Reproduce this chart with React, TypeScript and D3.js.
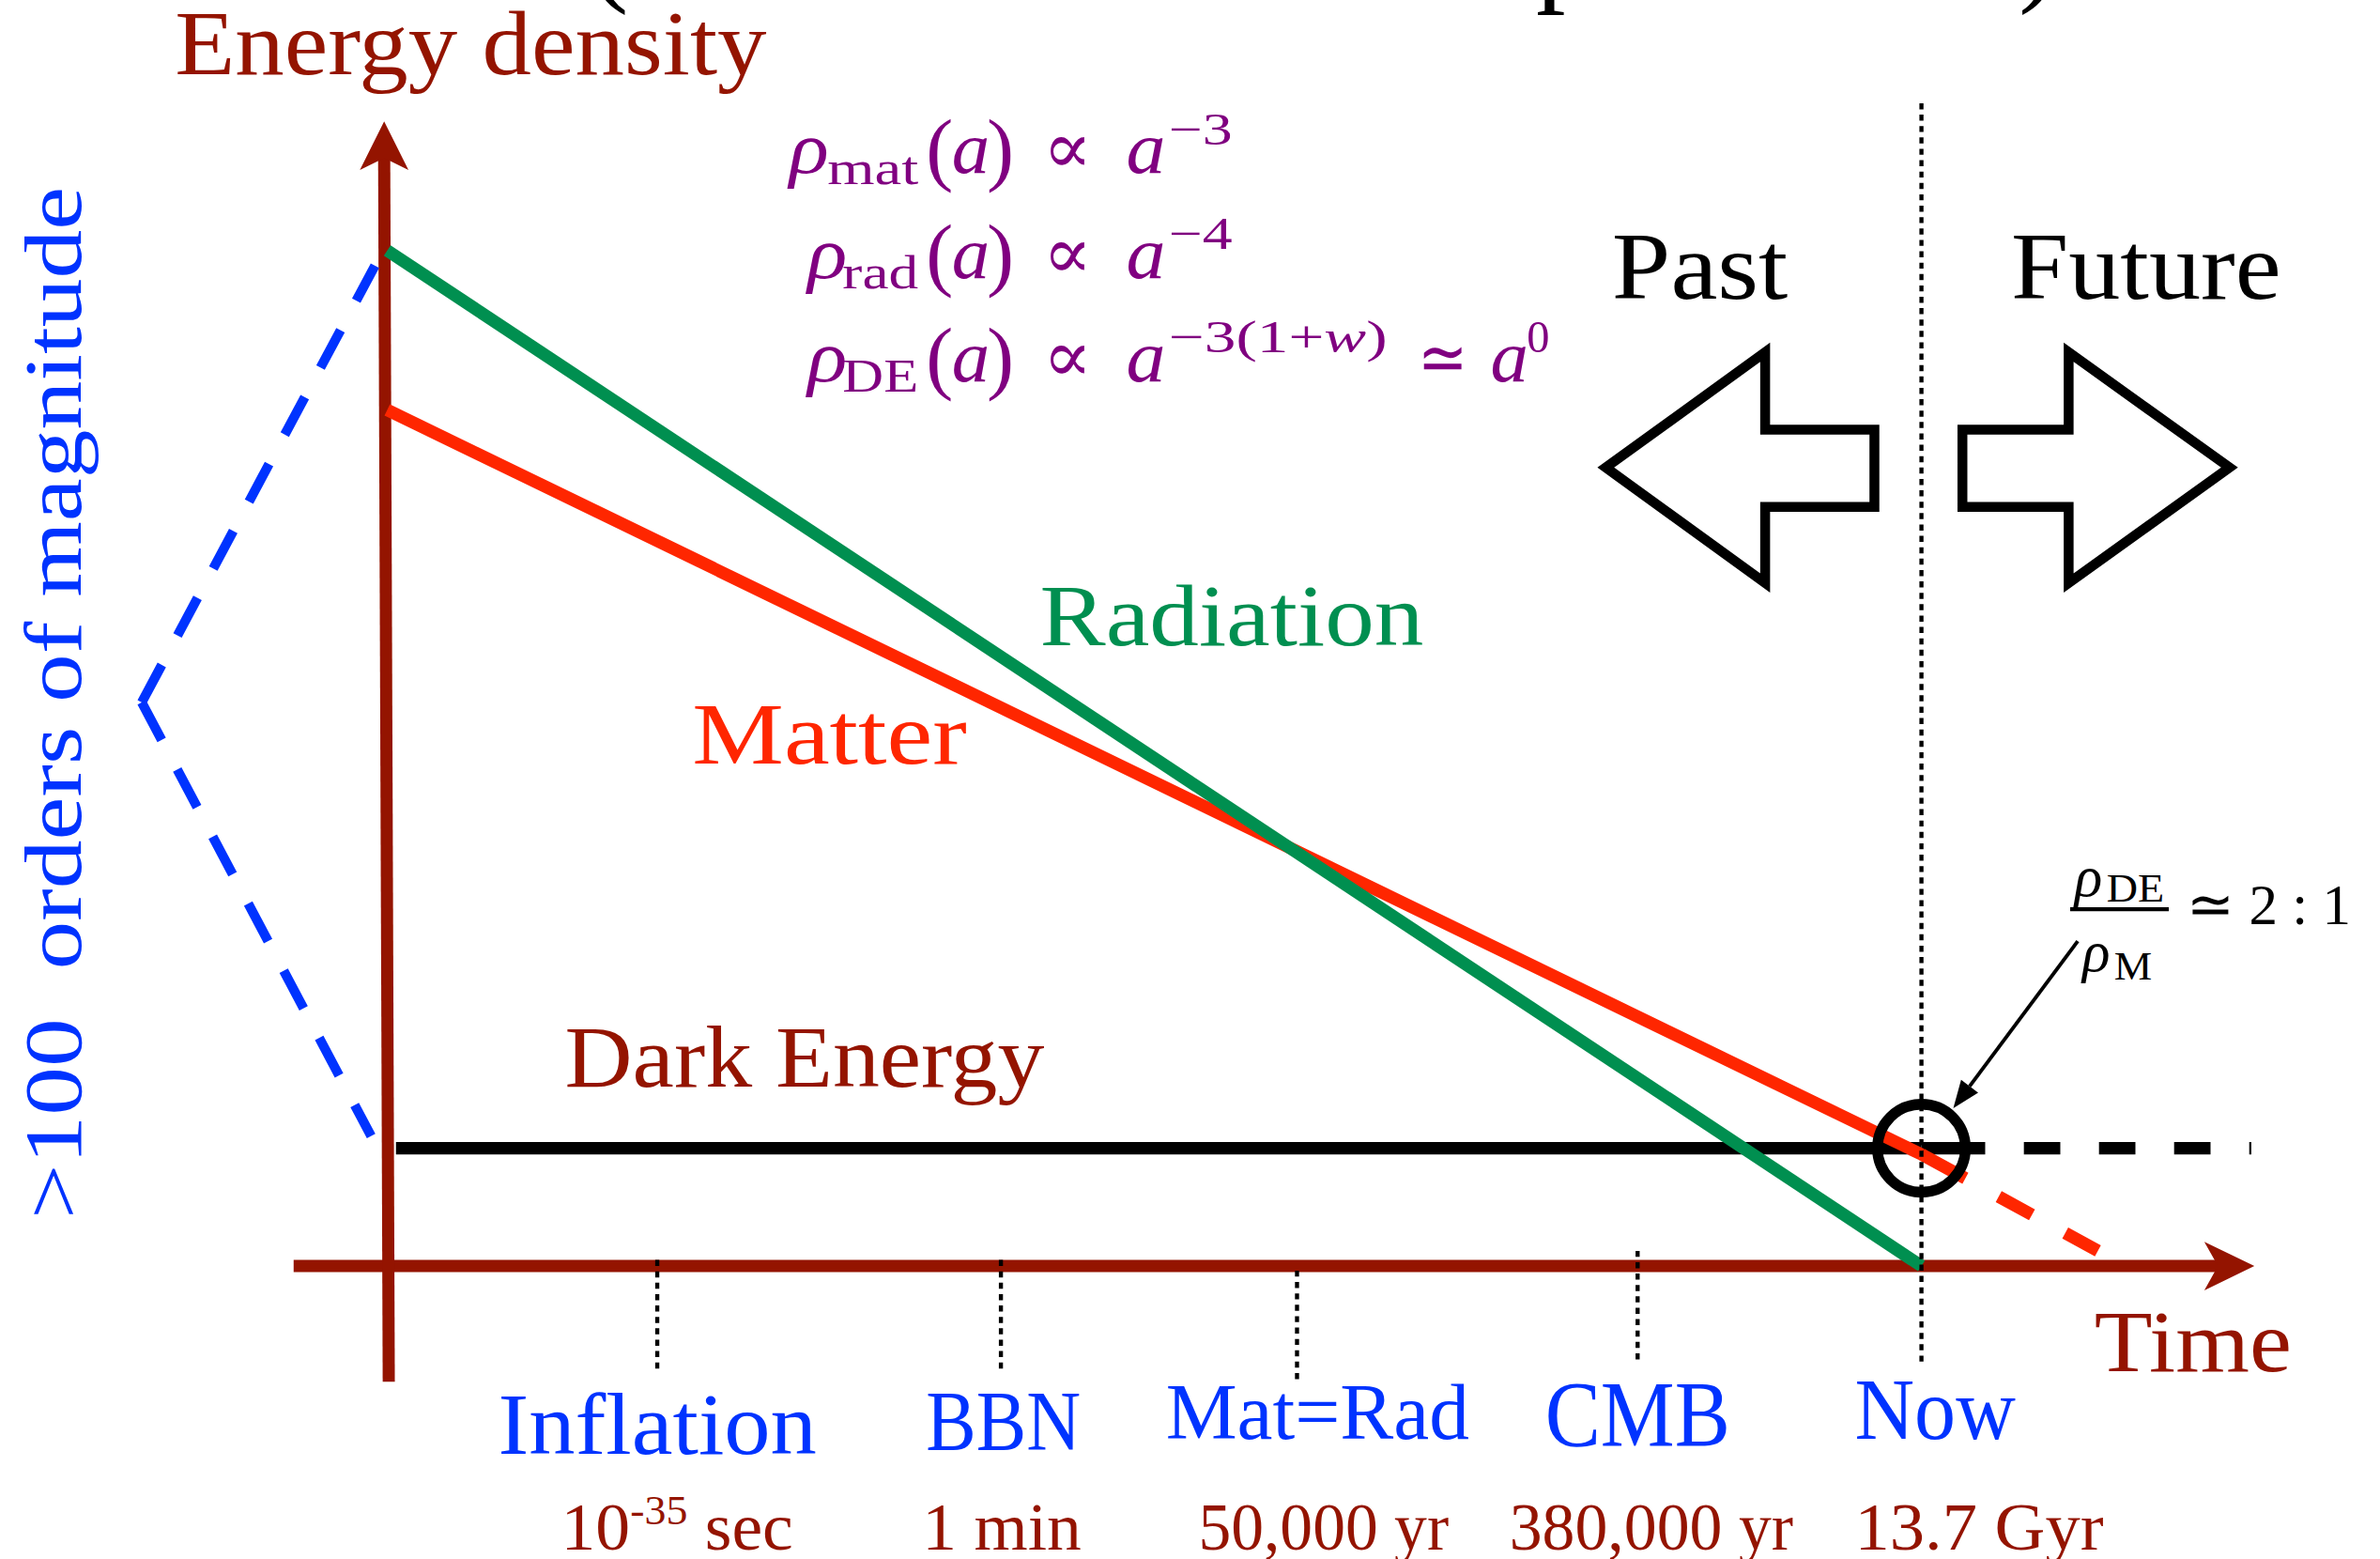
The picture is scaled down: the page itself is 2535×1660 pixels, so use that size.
import React from 'react';
import * as d3 from 'd3';

// ---------------- data ----------------
const epochNames = ['Inflation', 'BBN', 'Mat=Rad', 'CMB', 'Now'];
const epochAges = ['10^-35 sec', '1 min', '50,000 yr', '380,000 yr', '13.7 Gyr'];
const epochLogA = [1.76, 4.0, 5.93, 8.15, 10];

const radiationLogA = [0, 10];
const radiationLogRho = [10, 0];
const matterLogA = [0, 10, 11.15];
const matterLogRho = [8.43, 1.1, 0.15];
const darkEnergyLogA = [0.057, 10, 12.15];
const darkEnergyLogRho = [1.16, 1.16, 1.16];
const spanLogA = [-0.08, -1.6, -0.105];
const spanLogRho = [9.85, 5.55, 1.28];
const xAxisExtent = [-0.61, 12.17];
const yAxisExtent = [-1.14, 11.27];

const formulaSubs = ['mat', 'rad', 'DE'];
const formulaExps = ['\u22123', '\u22124', '\u22123(1+w)'];

// ---------------- layout / style ----------------
const W = 1568, H = 1027;
const SERIF = "'Liberation Serif', 'Times New Roman', serif";
const DARKRED = '#941400';
const GREEN = '#008F50';
const RED = '#FF2600';
const BLUE = '#0033FF';
const PURPLE = '#800080';
const LW = 8.2;

const x = d3.scaleLinear().domain([0, 10]).range([255, 1266]);
const y = d3.scaleLinear().domain([0, 10]).range([834, 165]);

const tickExtent = [[830, 903], [830, 903], [837, 909], [824, 898], [68, 900]];
const labelLayout = [
  { cx: 433, base: 958, size: 58, len: 210 },
  { cx: 661, base: 955, size: 56, len: 102 },
  { cx: 868, base: 948, size: 53, len: 200 },
  { cx: 1079, base: 952, size: 62, len: 122 },
  { cx: 1275, base: 948, size: 57, len: 106 },
];
const ageLayout = [
  { cx: 446, len: 153 },
  { cx: 660, len: 105 },
  { cx: 872, len: 165 },
  { cx: 1088, len: 187 },
  { cx: 1304, len: 164 },
];
const formulaLayout = [
  { base: 114, rhoX: 520, subX: 545, subLen: 60, expLen: 42 },
  { base: 183, rhoX: 532, subX: 555, subLen: 50, expLen: 42 },
  { base: 251, rhoX: 532, subX: 555, subLen: 50, expLen: 144 },
];

const line = d3.line<[number, number]>().x(d => x(d[0])).y(d => y(d[1]));
const pts = (xs: number[], ys: number[]) => xs.map((v, i) => [v, ys[i]] as [number, number]);

function T(props: any) {
  const { x: tx, y: ty, size, fill = 'black', len, anchor = 'start', italic, children, family = SERIF } = props;
  return (
    <text
      x={tx}
      y={ty}
      fontFamily={family}
      fontSize={size}
      fill={fill}
      textAnchor={anchor}
      fontStyle={italic ? 'italic' : 'normal'}
      textLength={len}
      lengthAdjust={len ? 'spacingAndGlyphs' : undefined}
      style={{ whiteSpace: 'pre' }}
    >
      {children}
    </text>
  );
}

function Formula({ i }: { i: number }) {
  const L = formulaLayout[i];
  const b = L.base;
  const exp = formulaExps[i];
  return (
    <g>
      <T x={L.rhoX} y={b} size={48} fill={PURPLE} italic len={26}>ρ</T>
      <T x={L.subX} y={b + 7} size={31} fill={PURPLE} len={L.subLen}>{formulaSubs[i]}</T>
      <T x={610} y={b + 2} size={54} fill={PURPLE}>(</T>
      <T x={627} y={b} size={48} fill={PURPLE} italic len={25}>a</T>
      <T x={650} y={b + 2} size={54} fill={PURPLE}>)</T>
      <T x={687} y={b} size={48} fill={PURPLE} family="'DejaVu Serif', serif">∝</T>
      <T x={742} y={b} size={48} fill={PURPLE} italic len={26}>a</T>
      {exp.includes('w') ? (
        <text x={770} y={b - 19} fontFamily={SERIF} fontSize={30} fill={PURPLE} textLength={L.expLen} lengthAdjust="spacingAndGlyphs">
          {'\u22123(1+'}<tspan fontStyle="italic">w</tspan>{')'}
        </text>
      ) : (
        <T x={770} y={b - 19} size={30} fill={PURPLE} len={L.expLen}>{exp}</T>
      )}
      {exp.includes('w') && (
        <>
          <T x={934} y={b} size={46} fill={PURPLE} len={33}>≃</T>
          <T x={982} y={b} size={48} fill={PURPLE} italic len={25}>a</T>
          <T x={1006} y={b - 19} size={30} fill={PURPLE}>0</T>
        </>
      )}
    </g>
  );
}

function AgeLabel({ i }: { i: number }) {
  const s = epochAges[i];
  const m = s.match(/^(.*)\^(\S+)(.*)$/);
  const L = ageLayout[i];
  return (
    <text x={L.cx} y={1021} fontFamily={SERIF} fontSize={45} fill={DARKRED} textAnchor="middle"
      textLength={L.len} lengthAdjust="spacingAndGlyphs" style={{ whiteSpace: 'pre' }}>
      {m ? (
        <>
          {m[1]}
          <tspan fontSize={28} dy={-17}>{m[2]}</tspan>
          <tspan dy={17}>{m[3]}</tspan>
        </>
      ) : s}
    </text>
  );
}

export default function App() {
  const xAxisY = y(0);
  const xTip = x(xAxisExtent[1]);
  const yTipY = y(yAxisExtent[1]);
  const yTopX = x(-0.02);
  const yBotX = x(0.01);

  // annotation arrow
  const a0 = [1369, 620], a1 = [1287, 730];
  const ang = Math.atan2(a1[1] - a0[1], a1[0] - a0[0]);
  const hl = 18, hw = 7;
  const hb = [a1[0] - hl * Math.cos(ang), a1[1] - hl * Math.sin(ang)];
  const head = [
    a1,
    [hb[0] + hw * Math.sin(ang), hb[1] - hw * Math.cos(ang)],
    [hb[0] - hw * Math.sin(ang), hb[1] + hw * Math.cos(ang)],
  ];

  const nowX = x(epochLogA[4]);
  const matterSolid = pts(matterLogA.slice(0, 2), matterLogRho.slice(0, 2));
  const matterDash = pts(matterLogA.slice(1), matterLogRho.slice(1));
  const deSolid = pts(darkEnergyLogA.slice(0, 2), darkEnergyLogRho.slice(0, 2));
  const deDash = pts(darkEnergyLogA.slice(1), darkEnergyLogRho.slice(1));
  const spanUpper = pts([spanLogA[1], spanLogA[0]], [spanLogRho[1], spanLogRho[0]]);
  const spanLower = pts([spanLogA[1], spanLogA[2]], [spanLogRho[1], spanLogRho[2]]);

  return (
    <svg width={2535} height={1660} viewBox={`0 0 ${W} ${H}`}
      style={{ position: 'absolute', left: 0, top: 0, background: 'white' }}>
      <rect x={0} y={0} width={W} height={H} fill="white" />

      {/* cropped title (only descenders visible, as in the reference) */}
      <text y={-7} fontFamily={SERIF} fontSize={78} fill="black" style={{ whiteSpace: 'pre' }}>
        <tspan x={388}>(Coincidence</tspan>
        <tspan x={1012}>problem</tspan>
        <tspan x={1330}>)</tspan>
      </text>

      {/* Energy density label */}
      <T x={115} y={49} size={60} fill={DARKRED} len={390}>Energy density</T>

      {/* formulas */}
      {[0, 1, 2].map(i => <Formula key={i} i={i} />)}

      {/* Past / Future */}
      <T x={1062} y={197} size={63} len={116}>Past</T>
      <T x={1325} y={197} size={63} len={178}>Future</T>
      <polygon points="1058,308 1163,232 1163,283 1235,283 1235,334 1163,334 1163,384"
        fill="none" stroke="black" strokeWidth={6.5} strokeLinejoin="miter" strokeMiterlimit={10} />
      <polygon points="1469,308 1363,232 1363,283 1293,283 1293,334 1363,334 1363,384"
        fill="none" stroke="black" strokeWidth={6.5} strokeLinejoin="miter" strokeMiterlimit={10} />

      {/* axes */}
      <line x1={x(xAxisExtent[0])} y1={xAxisY} x2={xTip - 20} y2={xAxisY} stroke={DARKRED} strokeWidth={8} />
      <path d={`M${xTip},${xAxisY} L${xTip - 33},${xAxisY - 16} L${xTip - 24},${xAxisY} L${xTip - 33},${xAxisY + 16} Z`} fill={DARKRED} />
      <line x1={yBotX} y1={y(yAxisExtent[0])} x2={yTopX} y2={yTipY + 20} stroke={DARKRED} strokeWidth={8} />
      <path d={`M${yTopX},${yTipY} L${yTopX - 16},${yTipY + 32} L${yTopX},${yTipY + 24} L${yTopX + 16},${yTipY + 32} Z`} fill={DARKRED} />

      {/* blue bracket */}
      <path d={line(spanUpper)!} fill="none" stroke={BLUE} strokeWidth={6.3} strokeDasharray="28 22" />
      <path d={line(spanLower)!} fill="none" stroke={BLUE} strokeWidth={6.3} strokeDasharray="28 22" />

      {/* dark energy */}
      <path d={line(deSolid)!} fill="none" stroke="black" strokeWidth={LW} />
      <path d={line(deDash)!} fill="none" stroke="black" strokeWidth={LW}
        strokeDasharray="42 25.5 24 25.5 24 25.5 24 25.5 24 25.5" />

      {/* matter */}
      <path d={line(matterSolid)!} fill="none" stroke={RED} strokeWidth={LW} />
      <path d={line(matterDash)!} fill="none" stroke={RED} strokeWidth={LW}
        strokeDasharray="33 25 25 25 25 25" />

      {/* radiation (drawn above matter) */}
      <path d={line(pts(radiationLogA, radiationLogRho))!} fill="none" stroke={GREEN} strokeWidth={LW} />

      {/* epoch dotted ticks */}
      {epochLogA.map((v, i) => (
        <line key={i} x1={x(v)} x2={x(v)} y1={tickExtent[i][0]} y2={tickExtent[i][1]}
          stroke="black" strokeWidth={2.7} strokeDasharray="4 3.5" />
      ))}

      {/* circle at now */}
      <circle cx={nowX} cy={y(darkEnergyLogRho[1])} r={29} fill="none" stroke="black" strokeWidth={7} />

      {/* series labels */}
      <T x={685} y={425} size={58} fill={GREEN} len={253}>Radiation</T>
      <T x={456} y={503} size={58} fill={RED} len={181}>Matter</T>
      <T x={372} y={716} size={58} fill={DARKRED} len={316}>Dark Energy</T>
      <T x={1380} y={903} size={57} fill={DARKRED} len={130}>Time</T>

      {/* vertical blue text */}
      <g transform="translate(53,803) rotate(-90)">
        <T x={0} y={0} size={54} fill={BLUE} len={680}>{'>100\u00A0 orders of magnitude'}</T>
      </g>

      {/* epoch labels */}
      {epochNames.map((n, i) => (
        <T key={n} x={labelLayout[i].cx} y={labelLayout[i].base} size={labelLayout[i].size}
          fill={BLUE} anchor="middle" len={labelLayout[i].len}>{n}</T>
      ))}
      {epochAges.map((_, i) => <AgeLabel key={i} i={i} />)}

      {/* ratio annotation */}
      <T x={1367} y={590} size={38} italic>ρ</T>
      <T x={1388} y={594} size={26} len={38}>DE</T>
      <line x1={1364} x2={1429} y1={599} y2={599} stroke="black" strokeWidth={2.6} />
      <T x={1372} y={640} size={38} italic>ρ</T>
      <T x={1393} y={645} size={26} len={25}>M</T>
      <T x={1441} y={609} size={38} len={108}>{'\u2243 2 : 1'}</T>
      <line x1={a0[0]} y1={a0[1]} x2={hb[0]} y2={hb[1]} stroke="black" strokeWidth={2.4} />
      <polygon points={head.map(p => p.join(',')).join(' ')} fill="black" />
    </svg>
  );
}
